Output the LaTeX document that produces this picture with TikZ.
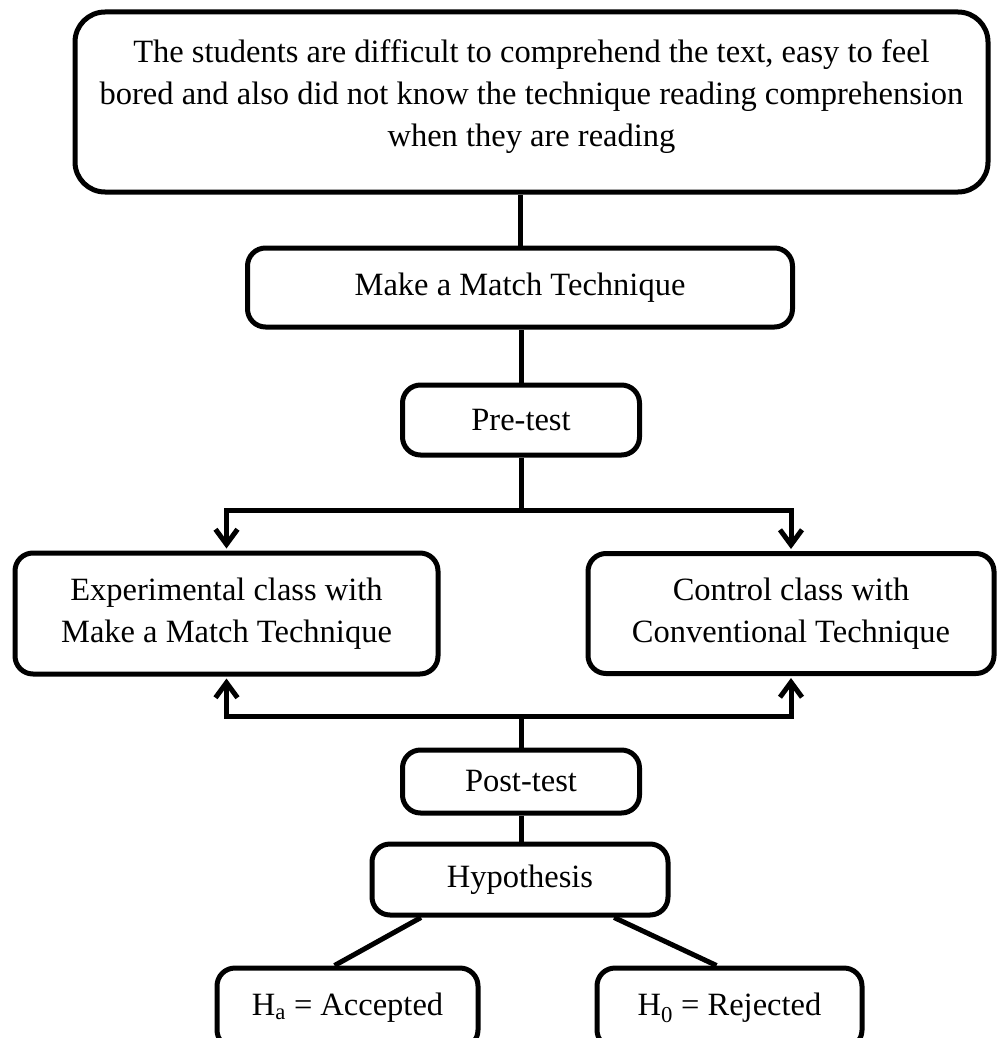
\documentclass[tikz,border=0pt]{standalone}
\usepackage{fontspec}
\setmainfont{Liberation Serif}
\usetikzlibrary{arrows.meta,calc}

\begin{document}
\begin{tikzpicture}[x=1pt, y=-1pt, line width=5pt,
  every node/.style={font=\fontsize{32.5}{42}\selectfont},
  box/.style={draw, rounded corners=18pt, align=center, inner sep=0pt},
  arr/.style={-{Straight Barb[length=15pt, width=22pt]}, shorten >=2pt}]
\useasboundingbox (0,0) rectangle (996,1038);
\node[box, rounded corners=30pt, minimum width=913pt, minimum height=180pt, text depth=18pt] (prob) at (531.5,102) {The students are difficult to comprehend the text, easy to feel\\bored and also did not know the technique reading comprehension\\when they are reading};
\node[box, minimum width=545pt, minimum height=79pt] (make) at (520,287.5) {Make a Match Technique};
\node[box, minimum width=237pt, minimum height=70pt] (pre) at (521,420) {Pre-test};
\node[box, minimum width=423pt, minimum height=121pt] (exp) at (226.5,613.5) {Experimental class with\\Make a Match Technique};
\node[box, minimum width=406pt, minimum height=120pt] (ctrl) at (791,613.5) {Control class with\\Conventional Technique};
\node[box, minimum width=237pt, minimum height=63pt] (post) at (521,781.5) {Post-test};
\node[box, minimum width=296pt, minimum height=71pt] (hyp) at (520,879.5) {Hypothesis};
\node[box, minimum width=261pt, minimum height=80pt] (ha) at (347.5,1008) {H\textsubscript{a} = Accepted};
\node[box, minimum width=265pt, minimum height=80pt] (hnull) at (729.5,1008) {H\textsubscript{0} = Rejected};
% links
\draw (make.north) -- (make.north |- prob.south);
\draw (pre.north) -- (pre.north |- make.south);
\coordinate (split) at ($(pre.south)+(0,53)$);
\draw[arr] (pre.south) -- (split) -| (exp.north);
\draw[arr] (split) -| (ctrl.north);
\coordinate (join) at ($(post.north)+(0,-31)$);
\draw (post.north) -- (join);
\draw[arr] (join) -| (exp.south);
\draw[arr] (join) -| (ctrl.south);
\draw (post.south) -- (post.south |- hyp.north);
\draw (hyp.201) -- (ha.107);
\draw (hyp.338) -- (hnull.107);
\end{tikzpicture}
\end{document}
